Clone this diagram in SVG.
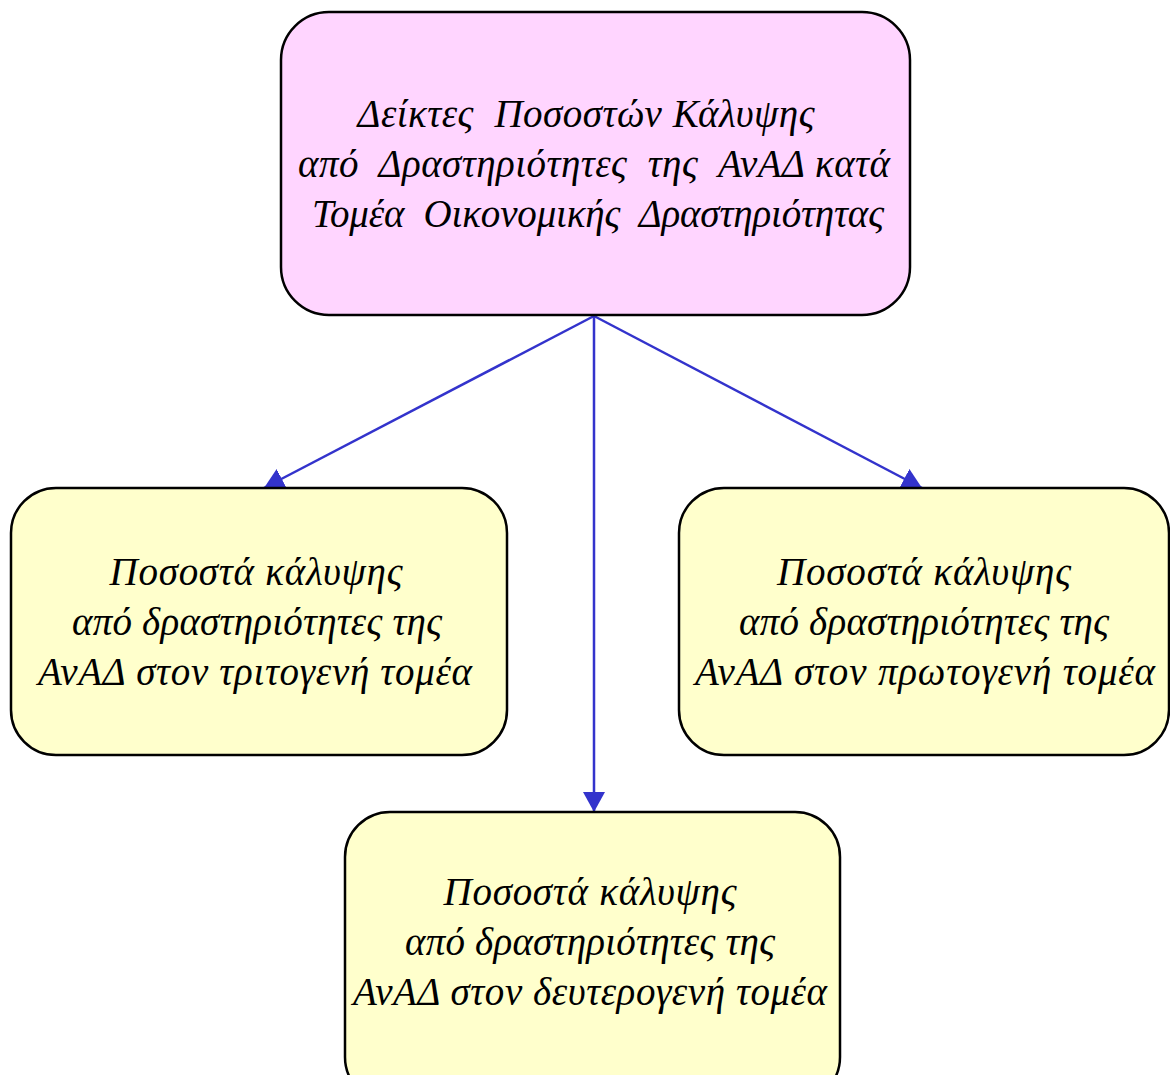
<svg xmlns="http://www.w3.org/2000/svg" width="1170" height="1075" viewBox="0 0 1170 1075">
<defs>
<marker id="ah" markerWidth="22" markerHeight="22" refX="20" refY="11" orient="auto" markerUnits="userSpaceOnUse">
<path d="M0,0 L20,11 L0,22 Z" fill="#3333CC"/>
</marker>
<style>
.box{stroke:#000;stroke-width:2.5}
.pink{fill:#FFD5FF}
.yel{fill:#FFFFCC}
.t{font-family:"Liberation Serif","DejaVu Serif",serif;font-style:italic;font-size:39px;fill:#000;text-anchor:middle;white-space:pre}
.c{stroke:#3333CC;stroke-width:2.5;fill:none}
</style>
</defs>
<rect width="1170" height="1075" fill="#fff"/>
<g id="connectors">
<line class="c" x1="594" y1="316" x2="264" y2="488" marker-end="url(#ah)"/>
<line class="c" x1="594" y1="316" x2="594" y2="812" marker-end="url(#ah)"/>
<line class="c" x1="594" y1="316" x2="922" y2="488" marker-end="url(#ah)"/>
</g>
<g id="top">
<rect class="box pink" x="281" y="12" width="629" height="303" rx="48"/>
<text class="t" x="586" y="127" textLength="457" lengthAdjust="spacing" xml:space="preserve">Δείκτες  Ποσοστών Κάλυψης</text>
<text class="t" x="594" y="177" textLength="592" lengthAdjust="spacing" xml:space="preserve">από  Δραστηριότητες  της  ΑνΑΔ κατά</text>
<text class="t" x="598" y="227" textLength="572" lengthAdjust="spacing" xml:space="preserve">Τομέα  Οικονομικής  Δραστηριότητας</text>
</g>
<g id="left">
<rect class="box yel" x="11" y="488" width="496" height="267" rx="45"/>
<text class="t" x="256" y="585" textLength="293" lengthAdjust="spacing">Ποσοστά κάλυψης</text>
<text class="t" x="257" y="635" textLength="370" lengthAdjust="spacing">από δραστηριότητες της</text>
<text class="t" x="255" y="685" textLength="434" lengthAdjust="spacing">ΑνΑΔ στον τριτογενή τομέα</text>
</g>
<g id="right">
<rect class="box yel" x="679" y="488" width="490" height="267" rx="45"/>
<text class="t" x="924" y="585" textLength="294" lengthAdjust="spacing">Ποσοστά κάλυψης</text>
<text class="t" x="924" y="635" textLength="370" lengthAdjust="spacing">από δραστηριότητες της</text>
<text class="t" x="925" y="685" textLength="460" lengthAdjust="spacing">ΑνΑΔ στον πρωτογενή τομέα</text>
</g>
<g id="bottom">
<rect class="box yel" x="345" y="812" width="495" height="290" rx="45"/>
<text class="t" x="590" y="905" textLength="293" lengthAdjust="spacing">Ποσοστά κάλυψης</text>
<text class="t" x="590" y="955" textLength="370" lengthAdjust="spacing">από δραστηριότητες της</text>
<text class="t" x="590" y="1005" textLength="474" lengthAdjust="spacing">ΑνΑΔ στον δευτερογενή τομέα</text>
</g>
</svg>
